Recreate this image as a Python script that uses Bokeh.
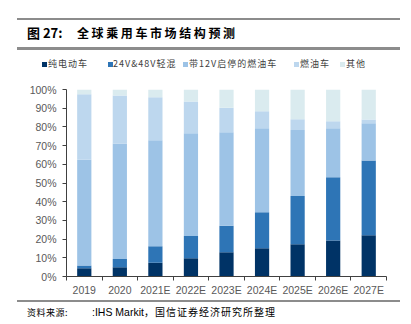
from bokeh.plotting import figure
from bokeh.models import FixedTicker, ColumnDataSource, Range1d, Div
from bokeh.layouts import column
from bokeh.embed import file_html
from bokeh.resources import INLINE

years = ["2019", "2020", "2021E", "2022E", "2023E", "2024E", "2025E", "2026E", "2027E"]
series_names = ["纯电动车", "24V&48V轻混", "带12V启停的燃油车", "燃油车", "其他"]
bev = [4.4, 5.0, 7.3, 9.8, 13.0, 15.1, 17.3, 19.3, 22.1]
mild = [1.5, 4.3, 8.9, 11.8, 14.1, 19.3, 25.8, 33.8, 39.9]
ss12v = [56.5, 61.8, 56.7, 55.0, 50.1, 44.9, 35.3, 26.2, 20.0]
ice = [35.1, 25.7, 23.0, 17.0, 13.0, 9.1, 5.7, 3.7, 2.0]
other = [2.5, 3.2, 4.1, 6.4, 9.8, 11.6, 15.9, 17.0, 16.0]
y_ticks = [0, 10, 20, 30, 40, 50, 60, 70, 80, 90, 100]

colors = ["#003366", "#2E75B6", "#9DC3E6", "#BDD7EE", "#DAEBEF"]

W = 411
TOP_H, FIG_H, BOT_H = 80, 220, 24
CJK = "'Noto Sans CJK SC'"
RULE = "#8c8c8c"

n = len(years)
centers = [i + 0.5 for i in range(n)]
bounds = list(range(n + 1))
keys = ["s0", "s1", "s2", "s3", "s4"]
src = ColumnDataSource(dict(x=centers, s0=bev, s1=mild, s2=ss12v, s3=ice, s4=other))

p = figure(width=W, height=FIG_H, output_backend="svg", toolbar_location=None,
           x_range=Range1d(0, n), y_range=Range1d(0, 100),
           min_border_left=66, min_border_right=25, min_border_top=9,
           min_border_bottom=24, margin=0)
p.outline_line_color = None
p.xgrid.visible = False
p.ygrid.visible = False

p.vbar_stack(keys, x="x", width=0.4, color=colors, source=src, line_width=0)

lbl_color = "#595959"
p.xaxis.ticker = FixedTicker(ticks=centers, minor_ticks=bounds)
p.xaxis.major_label_overrides = {c: y for c, y in zip(centers, years)}
p.xaxis.major_tick_line_color = None
p.xaxis.minor_tick_in = 0
p.xaxis.minor_tick_out = 4
p.xaxis.minor_tick_line_color = "#404040"
p.xaxis.axis_line_color = "#404040"
p.xaxis.major_label_text_font = "Liberation Sans"
p.xaxis.major_label_text_font_size = "10.5px"
p.xaxis.major_label_text_color = lbl_color
p.xaxis.major_label_standoff = 1

p.yaxis.ticker = FixedTicker(ticks=y_ticks)
p.yaxis.major_label_overrides = {t: f"{t}%" for t in y_ticks}
p.yaxis.minor_tick_line_color = None
p.yaxis.major_tick_in = 0
p.yaxis.major_tick_out = 4
p.yaxis.major_tick_line_color = "#404040"
p.yaxis.axis_line_color = "#404040"
p.yaxis.major_label_text_font = "Liberation Sans"
p.yaxis.major_label_text_font_size = "10.5px"
p.yaxis.major_label_text_color = lbl_color
p.yaxis.major_label_standoff = 6


def absdiv(left, top, inner, style=""):
    return (f'<div style="position:absolute;left:{left}px;top:{top}px;'
            f'white-space:nowrap;{style}">{inner}</div>')


# header: rules, title, legend
parts = [
    absdiv(17, 18, "", f"width:383px;height:1.5px;background:{RULE};"),
    absdiv(17, 47, "", f"width:383px;height:2.5px;background:{RULE};"),
    absdiv(27, 24, "图 27:", f"font-family:{CJK};font-size:13px;font-weight:bold;"
                            "line-height:18px;color:#000;"),
    absdiv(77, 24, "全球乘用车市场结构预测",
           f"font-family:{CJK};font-size:12px;font-weight:bold;letter-spacing:2.6px;"
           "line-height:18px;color:#000;"),
]
sq_x = [44, 110, 185, 296, 342]
tx_x = [48, 113, 189, 300, 346]
for sx, tx, nm, c in zip(sq_x, tx_x, series_names, colors):
    parts.append(absdiv(sx - 2.5, 61.5, "", f"width:5px;height:5px;background:{c};"))
    parts.append(absdiv(tx, 57, nm, f"font-family:{CJK};font-size:9px;letter-spacing:1px;"
                                    "line-height:14px;color:#404040;"))
header = Div(width=W, height=TOP_H, margin=0,
             text=f'<div style="position:relative;width:{W}px;height:{TOP_H}px;">'
                  + "".join(parts) + "</div>")

# footer: rule and source (one flowing line so the pieces never overlap)
source_html = (
    f'<span style="font-family:{CJK};font-size:9px;letter-spacing:0.5px;">资料来源:</span>'
    '<span style="font-family:\'Liberation Sans\';font-size:10.5px;margin-left:24px;">'
    ':IHS Markit</span>'
    f'<span style="font-family:{CJK};font-size:10px;letter-spacing:1px;">'
    '，国信证券经济研究所整理</span>'
)
fparts = [
    absdiv(17, 0, "", f"width:383px;height:1.5px;background:{RULE};"),
    absdiv(27, 5, source_html, "line-height:14px;color:#000;"),
]
footer = Div(width=W, height=BOT_H, margin=0,
             text=f'<div style="position:relative;width:{W}px;height:{BOT_H}px;">'
                  + "".join(fparts) + "</div>")

layout = column(header, p, footer, spacing=0, margin=0)
open("out.html", "w").write(file_html(layout, INLINE))
